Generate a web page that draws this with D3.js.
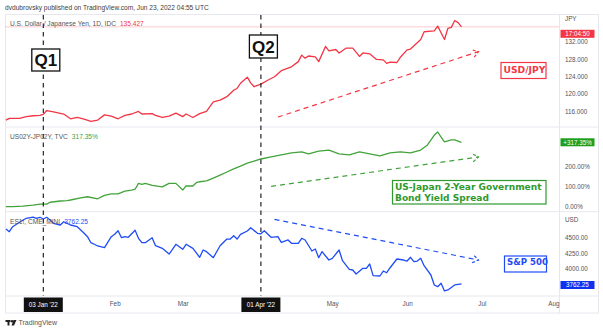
<!DOCTYPE html>
<html><head><meta charset="utf-8">
<script src="https://cdn.jsdelivr.net/npm/d3@7"></script>
<style>
html,body{margin:0;padding:0;background:#fff;}
svg{display:block;font-family:"Liberation Sans",Arial,sans-serif;}
</style></head><body>
<svg id="chart" width="603" height="330"></svg>
<script>
// ---- USD/JPY daily closes ----
const jpyDates = ["2021-12-17","2021-12-20","2021-12-23","2021-12-27","2021-12-29","2021-12-31","2022-01-03","2022-01-04","2022-01-06","2022-01-11","2022-01-13","2022-01-17","2022-01-19","2022-01-21","2022-01-25","2022-01-27","2022-01-31","2022-02-02","2022-02-04","2022-02-08","2022-02-10","2022-02-11","2022-02-16","2022-02-17","2022-02-21","2022-02-23","2022-02-25","2022-03-01","2022-03-02","2022-03-04","2022-03-08","2022-03-10","2022-03-14","2022-03-16","2022-03-18","2022-03-22","2022-03-23","2022-03-24","2022-03-28","2022-03-29","2022-03-30","2022-04-01","2022-04-05","2022-04-07","2022-04-11","2022-04-14","2022-04-18","2022-04-19","2022-04-20","2022-04-21","2022-04-25","2022-04-26","2022-04-28","2022-04-29","2022-05-03","2022-05-04","2022-05-06","2022-05-10","2022-05-12","2022-05-13","2022-05-17","2022-05-19","2022-05-23","2022-05-24","2022-05-25","2022-05-27","2022-05-30","2022-06-01","2022-06-02","2022-06-07","2022-06-08","2022-06-13","2022-06-14","2022-06-16","2022-06-17","2022-06-20","2022-06-21","2022-06-22","2022-06-23"];
const jpyValues = [113.9,114.3,114.3,114.7,114.9,115.0,115.2,116.1,115.8,115.3,114.2,114.5,114.1,113.6,113.9,115.1,114.8,114.2,115.0,115.3,115.9,115.3,115.4,115.0,114.5,114.8,115.5,114.7,115.3,114.5,115.4,115.9,118.1,118.5,119.3,120.8,121.2,122.4,123.8,122.5,121.6,122.2,123.1,123.9,125.3,126.2,127.4,128.9,128.2,128.7,128.5,127.4,130.9,129.9,130.2,129.4,130.5,130.5,128.6,129.4,129.2,127.9,127.8,127.0,127.3,127.2,128.4,130.1,130.3,132.5,134.3,134.5,135.6,132.5,135.1,135.3,136.9,136.4,135.427];

// ---- US 2Y minus JP 2Y yield spread, % change ----
const spreadDates = ["2021-12-17","2021-12-21","2021-12-24","2021-12-29","2021-12-31","2022-01-04","2022-01-05","2022-01-10","2022-01-12","2022-01-13","2022-01-18","2022-01-20","2022-01-25","2022-01-27","2022-01-31","2022-02-02","2022-02-04","2022-02-08","2022-02-09","2022-02-10","2022-02-11","2022-02-14","2022-02-16","2022-02-21","2022-02-23","2022-02-25","2022-03-01","2022-03-02","2022-03-04","2022-03-07","2022-03-08","2022-03-10","2022-03-14","2022-03-16","2022-03-18","2022-03-22","2022-03-24","2022-03-28","2022-03-30","2022-04-01","2022-04-06","2022-04-11","2022-04-14","2022-04-19","2022-04-21","2022-04-26","2022-04-29","2022-05-04","2022-05-09","2022-05-12","2022-05-17","2022-05-20","2022-05-25","2022-05-30","2022-06-02","2022-06-07","2022-06-09","2022-06-13","2022-06-14","2022-06-15","2022-06-16","2022-06-20","2022-06-21","2022-06-23"];
const spreadValues = [0,0,3,8,13,13,22,28,30,33,44,49,39,56,63,63,77,82,86,115,110,115,105,98,115,115,82,103,102,118,123,127,141,156,171,186,200,215,225,235,245,255,265,270,260,274,279,260,255,270,260,250,265,270,265,279,304,353,368,343,319,329,329,317.35];

// ---- E-mini S&P 500 continuous futures ----
const spxDates = ["2021-12-17","2021-12-20","2021-12-21","2021-12-23","2021-12-27","2021-12-29","2021-12-30","2021-12-31","2022-01-03","2022-01-04","2022-01-05","2022-01-06","2022-01-10","2022-01-11","2022-01-13","2022-01-17","2022-01-19","2022-01-20","2022-01-21","2022-01-24","2022-01-25","2022-01-27","2022-01-31","2022-02-01","2022-02-02","2022-02-03","2022-02-04","2022-02-07","2022-02-09","2022-02-10","2022-02-11","2022-02-14","2022-02-16","2022-02-17","2022-02-21","2022-02-23","2022-02-24","2022-02-25","2022-03-01","2022-03-02","2022-03-04","2022-03-08","2022-03-09","2022-03-10","2022-03-14","2022-03-16","2022-03-18","2022-03-21","2022-03-22","2022-03-23","2022-03-24","2022-03-28","2022-03-29","2022-03-31","2022-04-01","2022-04-04","2022-04-06","2022-04-08","2022-04-11","2022-04-13","2022-04-14","2022-04-18","2022-04-19","2022-04-20","2022-04-22","2022-04-25","2022-04-26","2022-04-27","2022-04-29","2022-05-02","2022-05-04","2022-05-05","2022-05-09","2022-05-10","2022-05-11","2022-05-13","2022-05-16","2022-05-17","2022-05-18","2022-05-20","2022-05-23","2022-05-24","2022-05-25","2022-05-27","2022-05-31","2022-06-01","2022-06-02","2022-06-03","2022-06-06","2022-06-07","2022-06-08","2022-06-10","2022-06-13","2022-06-14","2022-06-15","2022-06-16","2022-06-17","2022-06-21","2022-06-23"];
const spxValues = [4630,4587,4666,4736,4799,4819,4799,4815,4788,4815,4772,4720,4693,4745,4693,4666,4562,4508,4413,4388,4361,4334,4508,4546,4603,4492,4508,4498,4609,4483,4413,4413,4492,4365,4324,4234,4308,4388,4308,4388,4324,4182,4297,4271,4176,4365,4471,4471,4524,4471,4546,4598,4650,4562,4554,4603,4498,4508,4419,4456,4403,4403,4483,4456,4282,4313,4176,4271,4139,4166,4297,4128,3992,3981,3918,4008,4008,4076,3891,3886,3965,3938,4017,4155,4139,4123,4182,4112,4123,4166,4049,3902,3744,3717,3771,3649,3665,3744,3762.25];

// ---- axis ticks ----
const jpyTicks = [116, 120, 124, 128, 132];
const spreadTicks = [0, 100, 200];
const spxTicks = [4000, 4250, 4500];
const monthTicks = [["2022-02-01","Feb"],["2022-03-01","Mar"],["2022-05-02","May"],["2022-06-01","Jun"],["2022-07-01","Jul"],["2022-08-01","Aug"]];
const quarterMarks = [["2022-01-03","03 Jan '22","Q1"],["2022-04-01","01 Apr '22","Q2"]];

// ---- trend annotations: [startDate, startValue, endDate, endValue] ----
const jpyTrend = ["2022-04-08", 114.6, "2022-06-30", 129.7];
const spreadTrend = ["2022-04-06", 100, "2022-06-30", 245];
const spxTrend = ["2022-04-07", 4783, "2022-06-30", 4139];

// Bar index counting weekdays only (sessions), origin 2022-01-03
function session(str) {
  const t = Date.parse(str + "T00:00:00Z");
  const days = Math.round((t - Date.UTC(2022, 0, 3)) / 864e5);
  const w = Math.floor(days / 7);
  const r = days - 7 * w;
  return 5 * w + Math.min(r, 5);
}

const svg = d3.select("#chart");
const L = 5, R = 559, FR = 598;
const panels = [{top: 15, bottom: 127}, {top: 127, bottom: 211.7}, {top: 211.7, bottom: 296}];
const axisBottomY = 313;

const RED = "#f23645", GREEN = "#43a33b", BLUE = "#1f4cf5";
const GRID = "#e6e8ee", TXT = "#50535e";

const x = d3.scaleLinear().domain([0, 150]).range([43.3, 553.3]);
const yJpy = d3.scaleLinear().domain([116, 132]).range([110.98, 41.7]);
const ySpread = d3.scaleLinear().domain([0, 200]).range([206.7, 166.1]);
const ySpx = d3.scaleLinear().domain([4000, 4500]).range([268.8, 237.2]);

// header
svg.append("text").attr("x", 5).attr("y", 10).attr("font-size", 6.6).attr("fill", "#3d3d3d")
  .text("dvdubrovsky published on TradingView.com, Jun 23, 2022 04:55 UTC");

// frame and panel separators
svg.append("rect").attr("x", L + 0.5).attr("y", 14.5).attr("width", FR - L).attr("height", axisBottomY - 14.5)
  .attr("fill", "none").attr("stroke", GRID);
svg.append("line").attr("x1", R + 0.5).attr("x2", R + 0.5).attr("y1", 14.5).attr("y2", axisBottomY).attr("stroke", GRID);
[127, 211.7, 296].forEach(yv => svg.append("line").attr("x1", L).attr("x2", FR).attr("y1", yv).attr("y2", yv).attr("stroke", GRID));

// clip paths per panel
const defs = svg.append("defs");
panels.forEach((p, i) => defs.append("clipPath").attr("id", "clip" + i)
  .append("rect").attr("x", L).attr("y", p.top).attr("width", R - L).attr("height", p.bottom - p.top));

function series(dates, values) { return dates.map((d, i) => ({s: session(d), v: values[i]})); }

function drawLine(idx, data, y, color) {
  svg.append("path").datum(data).attr("clip-path", `url(#clip${idx})`)
    .attr("fill", "none").attr("stroke", color).attr("stroke-width", 1.3).attr("stroke-linejoin", "round")
    .attr("d", d3.line().x(d => x(d.s)).y(d => y(d.v)));
}

// last price line for USD/JPY
const lastJpy = jpyValues[jpyValues.length - 1];
svg.append("line").attr("x1", L).attr("x2", R).attr("y1", yJpy(lastJpy)).attr("y2", yJpy(lastJpy))
  .attr("stroke", RED).attr("stroke-opacity", 0.25).attr("stroke-width", 1);

drawLine(0, series(jpyDates, jpyValues), yJpy, RED);
drawLine(1, series(spreadDates, spreadValues), ySpread, GREEN);
drawLine(2, series(spxDates, spxValues), ySpx, BLUE);

// quarter start markers
quarterMarks.forEach(([d]) => {
  svg.append("line").attr("x1", x(session(d))).attr("x2", x(session(d)))
    .attr("y1", 15).attr("y2", 296).attr("stroke", "#111").attr("stroke-width", 1.1).attr("stroke-dasharray", "4.5,4");
});
const qBoxes = [{y: 49, h: 22}, {y: 35, h: 23}];
quarterMarks.forEach(([d, , q], i) => {
  const cx = x(session(d)) + 2.5;
  const g = svg.append("g");
  g.append("rect").attr("x", cx - 14).attr("y", qBoxes[i].y).attr("width", 28).attr("height", qBoxes[i].h)
    .attr("fill", "#fff").attr("stroke", "#111").attr("stroke-width", 1.3);
  g.append("text").attr("x", cx).attr("y", qBoxes[i].y + qBoxes[i].h / 2 + 6).attr("text-anchor", "middle")
    .attr("font-size", 17).attr("font-weight", "bold").attr("fill", "#111").text(q);
});

// trend arrows
function trend([d0, v0, d1, v1], y, color) {
  const x0 = x(session(d0)), y0 = y(v0), x1 = x(session(d1)), y1 = y(v1);
  svg.append("line").attr("x1", x0).attr("y1", y0).attr("x2", x1).attr("y2", y1)
    .attr("stroke", color).attr("stroke-width", 1.2).attr("stroke-dasharray", "5,4");
  const a = Math.atan2(y1 - y0, x1 - x0), len = 7, sp = 0.6;
  const p = [[x1 - len * Math.cos(a - sp), y1 - len * Math.sin(a - sp)], [x1, y1], [x1 - len * Math.cos(a + sp), y1 - len * Math.sin(a + sp)]];
  svg.append("path").attr("d", d3.line()(p)).attr("fill", "none").attr("stroke", color)
    .attr("stroke-width", 1.2).attr("stroke-dasharray", "3,2");
}
trend(jpyTrend, yJpy, RED);
trend(spreadTrend, ySpread, GREEN);
trend(spxTrend, ySpx, BLUE);

// text notes
function note(lines, x0, y0, w, h, color, fs, lh) {
  svg.append("rect").attr("x", x0).attr("y", y0).attr("width", w).attr("height", h)
    .attr("fill", "#fff").attr("stroke", color).attr("stroke-width", 1.2);
  lines.forEach((s, i) => svg.append("text").attr("x", x0 + 2.5).attr("y", y0 + fs + 0.8 + i * lh)
    .attr("font-family", "'DejaVu Sans', sans-serif").attr("font-weight", "bold")
    .attr("font-size", fs).attr("fill", color).text(s));
}
note(["USD/JPY"], 501, 62.5, 45, 16, RED, 9.2, 0);
note(["US-Japan 2-Year Government", "Bond Yield Spread"], 392.5, 180.5, 153.5, 23.5, "#2f9a2f", 9.05, 10.7);
note(["S&P 500"], 504.5, 256, 42, 16, BLUE, 8.6, 0);

// legends
function legend(y0, label, val, color) {
  const t = svg.append("text").attr("x", 10).attr("y", y0).attr("font-size", 6.6).attr("fill", "#555");
  t.append("tspan").text(label);
  t.append("tspan").attr("dx", 4).attr("fill", color).text(val);
}
legend(26, "U.S. Dollar / Japanese Yen, 1D, IDC", "135.427", RED);
legend(139, "US02Y-JP02Y, TVC", "317.35%", GREEN);
legend(223.5, "ES1!, CME_MINI", "3762.25", BLUE);

// right price axes
function priceAxis(scale, ticks, fmt, unit, unitY) {
  const g = svg.append("g").attr("transform", `translate(${R},0)`)
    .call(d3.axisRight(scale).tickValues(ticks).tickFormat(fmt).tickSize(0).tickPadding(6));
  g.select(".domain").remove();
  g.selectAll("text").attr("font-size", 6.3).attr("fill", TXT).attr("font-family", "'Liberation Sans', Arial, sans-serif");
  if (unit) svg.append("text").attr("x", R + 6).attr("y", unitY).attr("font-size", 6.3).attr("fill", TXT).text(unit);
}
priceAxis(yJpy, jpyTicks, d3.format(".3f"), "JPY", 21);
priceAxis(ySpread, spreadTicks, d => d3.format(".2f")(d) + "%", null);
priceAxis(ySpx, spxTicks, d3.format(".2f"), "USD", 222);

// last value tags
function tag(yc, txt, color) {
  svg.append("rect").attr("x", R + 1.5).attr("y", yc - 4).attr("width", 34).attr("height", 8).attr("fill", color);
  svg.append("text").attr("x", R + 18.5).attr("y", yc + 2.3).attr("text-anchor", "middle")
    .attr("font-size", 6.3).attr("fill", "#fff").text(txt);
}
tag(33.8, "17:04:50", RED);
tag(ySpread(spreadValues[spreadValues.length - 1]), "+317.35%", "#1e9e1e");
tag(285, d3.format(".2f")(spxValues[spxValues.length - 1]), "#1030f0");

// time axis
const tg = svg.append("g").attr("transform", "translate(0,296)")
  .call(d3.axisBottom(x).tickValues(monthTicks.map(m => session(m[0]))).tickFormat((d, i) => monthTicks[i][1]).tickSize(0).tickPadding(6));
tg.select(".domain").remove();
tg.selectAll("text").attr("font-size", 6.3).attr("fill", TXT).attr("font-family", "'Liberation Sans', Arial, sans-serif");
quarterMarks.forEach(([d, label]) => {
  const cx = x(session(d));
  svg.append("rect").attr("x", cx - 19.5).attr("y", 297.5).attr("width", 39).attr("height", 14.5).attr("fill", "#111");
  svg.append("text").attr("x", cx).attr("y", 307).attr("text-anchor", "middle").attr("font-size", 6.3)
    .attr("fill", "#fff").text(label);
});

// footer mark
const lg = svg.append("g").attr("fill", "#222");
lg.append("rect").attr("x", 5.5).attr("y", 320).attr("width", 5).attr("height", 2);
lg.append("rect").attr("x", 7.5).attr("y", 320).attr("width", 2).attr("height", 5.5);
lg.append("circle").attr("cx", 12).attr("cy", 321.2).attr("r", 1.2);
lg.append("path").attr("d", "M13.5,320 L16.5,320 L14,325.5 L11.5,325.5 Z");
svg.append("text").attr("x", 18.5).attr("y", 325.3).attr("font-size", 7).attr("fill", "#555").text("TradingView");
</script></body></html>
